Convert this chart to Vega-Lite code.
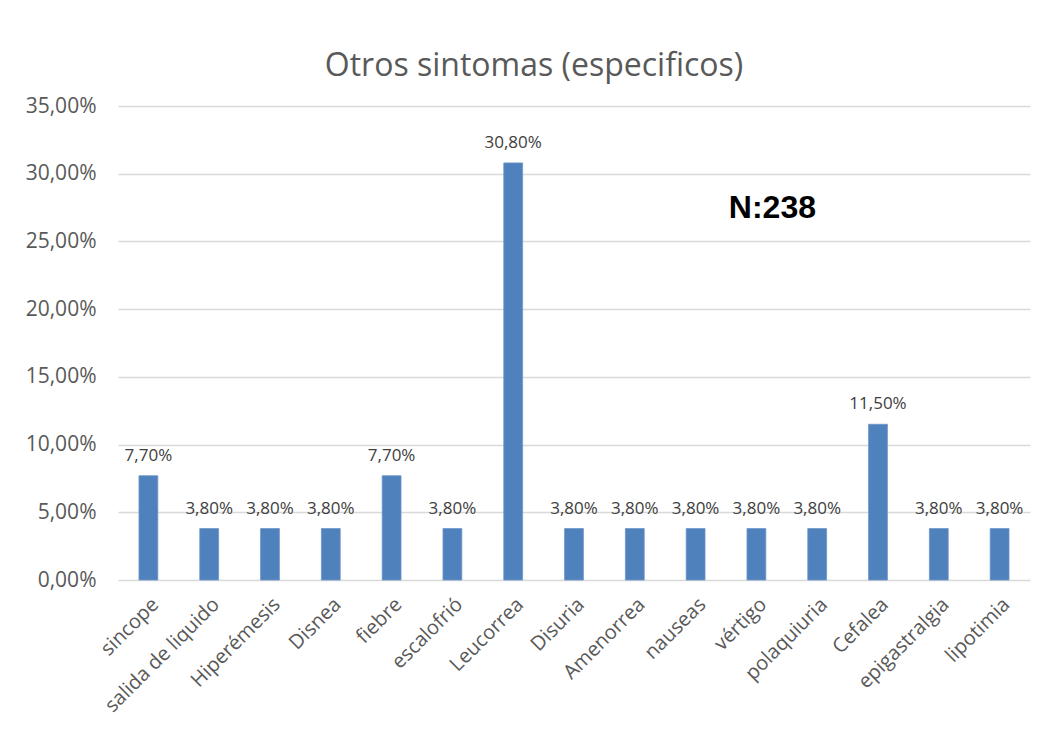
{
  "$schema": "https://vega.github.io/schema/vega-lite/v6.json",
  "width": 912,
  "height": 474,
  "autosize": {"type": "none"},
  "padding": {"left": 118, "top": 106, "right": 16, "bottom": 165},
  "background": "white",
  "title": {
    "text": "Otros sintomas (especificos)",
    "font": "Open Sans",
    "fontSize": 32,
    "fontWeight": "normal",
    "color": "#595959",
    "anchor": "middle",
    "offset": 12,
    "dx": -40,
    "frame": "group"
  },
  "config": {
    "locale": {"number": {"decimal": ",", "thousands": ".", "grouping": [3], "currency": ["", " €"]}},
    "view": {"stroke": null},
    "font": "Open Sans"
  },
  "data": {
    "values": [
      {"sintoma": "sincope", "pct": 0.077},
      {"sintoma": "salida de liquido", "pct": 0.038},
      {"sintoma": "Hiperémesis", "pct": 0.038},
      {"sintoma": "Disnea", "pct": 0.038},
      {"sintoma": "fiebre", "pct": 0.077},
      {"sintoma": "escalofrió", "pct": 0.038},
      {"sintoma": "Leucorrea", "pct": 0.308},
      {"sintoma": "Disuria", "pct": 0.038},
      {"sintoma": "Amenorrea", "pct": 0.038},
      {"sintoma": "nauseas", "pct": 0.038},
      {"sintoma": "vértigo", "pct": 0.038},
      {"sintoma": "polaquiuria", "pct": 0.038},
      {"sintoma": "Cefalea", "pct": 0.115},
      {"sintoma": "epigastralgia", "pct": 0.038},
      {"sintoma": "lipotimia", "pct": 0.038}
    ]
  },
  "encoding": {
    "x": {
      "field": "sintoma",
      "type": "nominal",
      "sort": null,
      "scale": {"paddingInner": 0.69, "paddingOuter": 0.345},
      "axis": {
        "title": null,
        "labelAngle": -45,
        "labelFontSize": 20,
        "labelColor": "#595959",
        "labelFont": "Open Sans",
        "ticks": false,
        "domain": false,
        "labelPadding": 14
      }
    },
    "y": {
      "field": "pct",
      "type": "quantitative",
      "scale": {"domain": [0, 0.35]},
      "axis": {
        "title": null,
        "format": ".2%",
        "values": [0, 0.05, 0.1, 0.15, 0.2, 0.25, 0.3, 0.35],
        "labelFontSize": 21,
        "labelColor": "#595959",
        "labelFont": "Open Sans",
        "ticks": false,
        "domain": false,
        "gridColor": "#D9D9D9",
        "gridWidth": 1.5,
        "labelPadding": 22
      }
    }
  },
  "layer": [
    {"mark": {"type": "bar", "color": "#4F81BD", "stroke": "#6F96C8", "strokeWidth": 0.8}},
    {
      "mark": {"type": "text", "baseline": "bottom", "dy": -11, "fontSize": 17, "color": "#404040", "font": "Open Sans"},
      "encoding": {"text": {"field": "pct", "type": "quantitative", "format": ".2%"}}
    },
    {
      "data": {"values": [{"sintoma": "vértigo", "pct": 0.275, "label": "N:238"}]},
      "mark": {"type": "text", "font": "Liberation Sans", "fontWeight": "bold", "fontSize": 32, "color": "#000000", "dx": 16, "baseline": "middle", "align": "center"},
      "encoding": {"text": {"field": "label"}}
    }
  ]
}
